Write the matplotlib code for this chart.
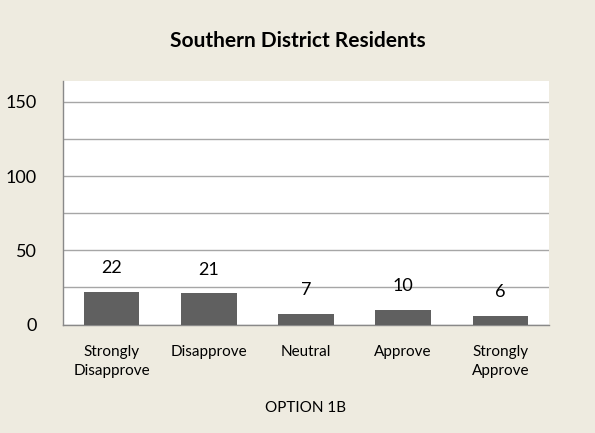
import matplotlib
matplotlib.use("Agg")
import matplotlib.pyplot as plt

categories = ["Strongly\nDisapprove", "Disapprove", "Neutral", "Approve", "Strongly\nApprove"]
values = [22, 21, 7, 10, 6]
yticks = [0, 50, 100, 150]
title = "Southern District Residents"
xlabel = "OPTION 1B"

plt.rcParams['font.family'] = ['Lato', 'DejaVu Sans']
bg = "#EEEBE0"
fig = plt.figure(figsize=(5.95, 4.33), dpi=100, facecolor=bg)
W, H = 595, 433
ax = fig.add_axes([63 / W, 1 - 324.5 / H, (549 - 63) / W, (324.5 - 81) / H])
ax.set_facecolor("white")
x = list(range(len(categories)))
ax.bar(x, values, width=0.57, color="#606060", zorder=3)
ax.set_xlim(-0.5, len(categories) - 0.5)
ax.set_ylim(0, 164)
ax.set_yticks(yticks)
ax.set_yticks([25, 75, 125], minor=True)
ax.yaxis.grid(True, which="both", color="#A6A6A6", linewidth=1, zorder=0)
ax.tick_params(axis="y", which="both", length=0, labelsize=13, pad=19)
ax.tick_params(axis="x", length=0, labelsize=11, pad=15)
ax.set_xticks(x)
ax.set_xticklabels(categories, linespacing=1.45)
for s in ["top", "right"]:
    ax.spines[s].set_visible(False)
for s in ["left", "bottom"]:
    ax.spines[s].set_color("#898989")
    ax.spines[s].set_linewidth(1)
for xi, v in zip(x, values):
    ax.annotate(str(v), (xi, v), xytext=(0, 17), textcoords="offset points",
                ha="center", va="center", fontsize=13, zorder=4)
fig.text(0.5, 1 - 41 / H, title, ha="center", va="center", fontsize=15, fontweight="bold")
fig.text(306 / W, 1 - 408 / H, xlabel, ha="center", va="center", fontsize=11)
fig.savefig("out.png", dpi=100, facecolor=bg)
